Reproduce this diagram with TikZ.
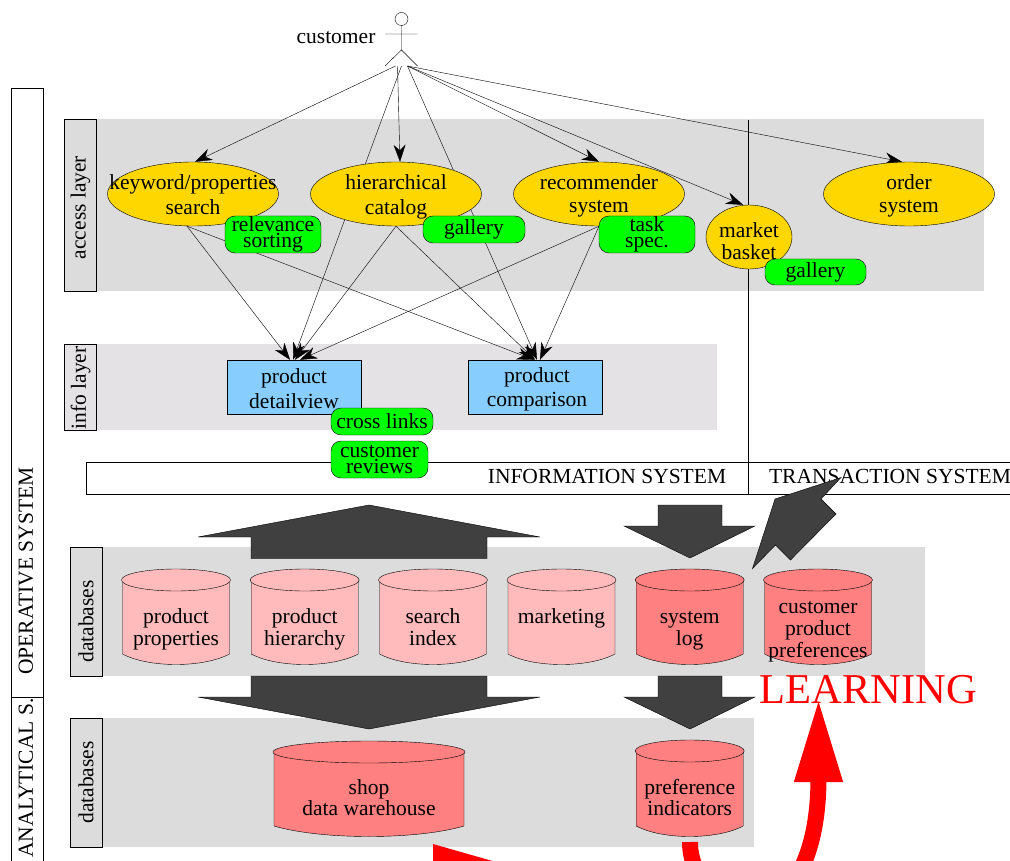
\documentclass[tikz,border=0pt]{standalone}
\usepackage{fontspec}
\setmainfont{Liberation Serif}
\usetikzlibrary{arrows.meta, shapes.geometric}
\definecolor{bandgray}{HTML}{DCDCDC}
\definecolor{infogray}{HTML}{E5E2E5}
\definecolor{ovalgold}{HTML}{FFD700}
\definecolor{viewblue}{HTML}{87CEFF}
\definecolor{dblight}{HTML}{FFBBBB}
\definecolor{dbdark}{HTML}{FF8080}
\definecolor{bigarrow}{HTML}{404040}
\pgfdeclarelayer{bands}
\pgfdeclarelayer{edges}
\pgfsetlayers{bands,edges,main}
\newcommand{\dbcyl}[8]{
  \draw[cyl, fill=#6] ({#2-#4+1},#3+11) -- ({#2-#4+1},#5)
     .. controls ({#2-#4*0.5},#5+14) and ({#2+#4*0.5},#5+14) .. ({#2+#4-1},#5)
     -- ({#2+#4-1},#3+11) -- cycle;
  \draw[cyl, fill=#6] (#2,#3+11) ellipse [x radius=#4, y radius=11];
  \node (#1) at (#2,#8) [dbtext] {#7};
}

\begin{document}
\begin{tikzpicture}
        [x=1pt, y=-1pt, line width=1.25pt,
        every node/.style={font=\fontsize{21.5}{25}\selectfont, inner sep=0pt},
        txt/.style={align=center},
        oval/.style={ellipse, draw=black, fill=ovalgold, minimum width=171, minimum height=64},
        view/.style={rectangle, draw=black, fill=viewblue, minimum width=134, minimum height=54},
        feature/.style={rectangle, draw=black, fill=green, rounded corners=10pt, align=center,
           font=\fontsize{21.5}{15.5}\selectfont},
        sidebox/.style={rectangle, draw=black, fill=bandgray, rotate=90, minimum height=32},
        cyl/.style={draw=black},
        dbtext/.style={align=center, font=\fontsize{21.5}{22}\selectfont},
        big/.style={draw=black, line width=0.4pt, fill=bigarrow},
        arr/.style={-{Stealth[length=17pt,width=12pt,inset=5.5pt]}}]
        \useasboundingbox (0,0) rectangle (1010,861);
        \clip (0,0) rectangle (1010,861);

        % background
        \begin{pgfonlayer}{bands}
           \clip (0,0) rectangle (1010,861);
           \fill[bandgray] (64,119) rectangle (984,291);
           \fill[infogray] (64,344) rectangle (717,430);
           \fill[bandgray] (70,547) rectangle (925,676);
           \fill[bandgray] (70,718) rectangle (754,847);
           \draw[fill=white] (11,88) rectangle (43,697);
           \draw[fill=white] (11,697) rectangle (43,900);
           \draw[fill=white] (86,462) rectangle (1100,494);
        \end{pgfonlayer}

        \node (opsys) at (26,571) [rotate=90] {OPERATIVE SYSTEM};
        \node (ansys) at (26,778) [rotate=90] {ANALYTICAL S.};
        \node (access) at (80.5,205) [sidebox, minimum width=172] {access layer\kern5pt};
        \node (info) at (80.5,387) [sidebox, fill=infogray, minimum width=86] {info layer\kern2pt};
        \node (dbop) at (86,611.5) [sidebox, minimum width=129] {databases\kern20pt};
        \node (dban) at (86,782.5) [sidebox, minimum width=129] {databases};
        \node (infosys) at (607,476.5) {INFORMATION SYSTEM};
        \node (transsys) at (890,476.5) {TRANSACTION SYSTEM};

        % customer
        \node (head) at (401.5,19) [circle, draw=black, minimum size=13] {};
        \node (customer) at (336,37.5) {customer};
        \coordinate (hip) at (401.5,50);
        \coordinate (armL) at (385,34);
        \coordinate (armR) at (417.5,34);
        \coordinate (footL) at (385,66);
        \coordinate (footR) at (417.5,66);
        \coordinate (feet) at (401.5,66);
        \draw (head) -- (hip) (armL) -- (armR) (footL) -- (hip) -- (footR);

        % access layer
        \node (kw) at (193,194) [oval] {};
        \node (cat) at (396,194) [oval] {};
        \node (rec) at (599,194) [oval] {};
        \node (ord) at (909,194) [oval] {};
        \node (bask) at (749,237) [ellipse, draw=black, fill=ovalgold, minimum width=86, minimum height=64] {};
        \node (kwtext) at (193,195) [txt] {keyword/properties\\search};
        \node (cattext) at (396,196.5) [txt] {hierarchical\\catalog};
        \node (rectext) at (599,196) [txt, font=\fontsize{21.5}{23}\selectfont] {recommender\\system};
        \node (ordtext) at (909,196) [txt, font=\fontsize{21.5}{23}\selectfont] {order\\system};
        \node (basktext) at (749,241) [txt, font=\fontsize{21.5}{22}\selectfont] {market\\basket};
        \node (relev) at (273,234.5) [feature, minimum width=96, minimum height=37] {relevance\\sorting};
        \node (gal) at (474,229.5) [feature, minimum width=102, minimum height=27] {gallery};
        \node (task) at (647,234.5) [feature, minimum width=96, minimum height=37] {task\\spec.};
        \node (galb) at (815.5,272) [feature, minimum width=101, minimum height=26] {gallery};

        % info layer
        \node (detail) at (294,387) [view] {};
        \node (comp) at (535,387) [view] {};
        \node (detailtext) at (294,389) [txt] {product\\detailview};
        \node (comptext) at (537,389.5) [txt, font=\fontsize{21.5}{24.5}\selectfont] {product\\comparison};
        \node (cross) at (382,421.5) [feature, minimum width=102, minimum height=27] {cross links};
        \node (revw) at (379.5,459.5) [feature, minimum width=97, minimum height=37] {customer\\reviews};

        % connectors
        \coordinate (divtop) at (748.5,120);
        \coordinate (divbot) at (748.5,494);
        \begin{pgfonlayer}{edges}
           \draw (divtop) -- (divbot);
           \draw[arr] ([xshift=-6pt]feet) -- ([xshift=2pt]kw.north);
           \draw[arr] ([xshift=-4pt]feet) -- ([xshift=4pt]cat.north);
           \draw[arr] ([xshift=6pt]feet) -- (rec.north);
           \draw[arr] ([xshift=6pt]feet) -- ([xshift=-6pt]bask.north);
           \draw[arr] ([xshift=6pt]feet) -- ([xshift=-7pt]ord.north);
           \draw[arr] (feet) -- ([xshift=-1pt]detail.north);
           \draw[arr] ([xshift=6pt]feet) -- ([xshift=2pt]comp.north);
           \draw[arr] ([xshift=-6pt]kw.south) -- ([xshift=-4pt]detail.north);
           \draw[arr] ([xshift=-6pt]kw.south) -- ([xshift=-1pt]comp.north);
           \draw[arr] (cat.south) -- ([xshift=1pt]detail.north);
           \draw[arr] (cat.south) -- (comp.north);
           \draw[arr] (rec.south) -- ([xshift=6pt]detail.north);
           \draw[arr] (rec.south) -- ([xshift=5pt]comp.north);
        \end{pgfonlayer}

        % databases
        \dbcyl{prop}{176}{569}{54.5}{654}{dblight}{product\\properties}{629}
        \dbcyl{hier}{304.7}{569}{54.5}{654}{dblight}{product\\hierarchy}{629}
        \dbcyl{search}{433}{569}{54.5}{654}{dblight}{search\\index}{627}
        \dbcyl{market}{561.5}{569}{54.5}{654}{dblight}{marketing}{618}
        \dbcyl{syslog}{689.7}{569}{54.5}{654}{dbdark}{system\\log}{631}
        \dbcyl{custpref}{818}{569}{54.5}{654}{dbdark}{customer\\product\\preferences}{631.5}
        \dbcyl{dw}{369}{741}{96}{826}{dbdark}{shop\\[-1pt]data warehouse}{798}
        \dbcyl{prefind}{689.7}{740}{54.5}{826}{dbdark}{preference\\[-1pt]indicators}{798}

        % big arrows
        \draw[big] (369,505) -- (540,537) -- (487,537) -- (487,558.5) -- (251,558.5) -- (251,537) -- (198,537) -- cycle;
        \draw[big] (658,505) -- (722,505) -- (722,526) -- (755,526) -- (690,558) -- (624,526) -- (658,526) -- cycle;
        \draw[big] (251,676) -- (487,676) -- (487,697) -- (540,697) -- (369,729) -- (198,697) -- (251,697) -- cycle;
        \draw[big] (658,676) -- (722,676) -- (722,697) -- (755,697) -- (690,729) -- (624,697) -- (658,697) -- cycle;
        \draw[big] (752.5,568.5) -- (775,499) -- (841,477.5) -- (821,499) -- (836,514) -- (790.5,560) -- (775.5,545) -- cycle;

        % learning
        \node (learn) at (868.5,690) [text=red, font=\fontsize{42.5}{42.5}\selectfont] {LEARNING};
        \coordinate (redstart) at (690,842);
        \coordinate (redtip) at (818.5,697);
        \draw[red, line width=16pt, -{Triangle[length=85pt,width=44pt]}] (redstart)
           .. controls (690,880) and (720,900) .. (760,900)
           .. controls (795,900) and (818.5,850) .. (redtip);
        \fill[red] (433,844) -- (510,866) -- (433,890) -- cycle;
     \end{tikzpicture}
\end{document}
